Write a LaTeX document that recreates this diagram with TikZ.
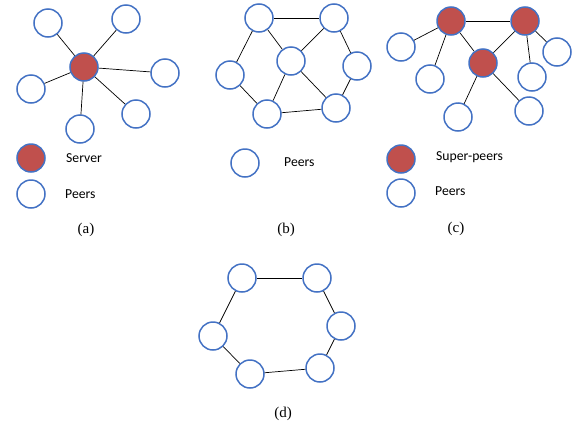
\documentclass[tikz,border=0pt]{standalone}
\usepackage{fontspec}
\setmainfont{Liberation Serif}
\newfontfamily\labelfont{Carlito}
\definecolor{peerblue}{RGB}{68,114,196}
\definecolor{serverred}{RGB}{192,80,77}
\begin{document}
\begin{tikzpicture}[x=1pt,y=-1pt,
  peer/.style={circle,draw=peerblue,line width=1.5pt,fill=white,minimum size=28pt,inner sep=0pt},
  hub/.style={peer,fill=serverred},
  link/.style={draw=black,line width=0.7pt},
  legend/.style={anchor=west,font=\labelfont\fontsize{13.7}{16}\selectfont,inner sep=0pt},
  caption/.style={font=\fontsize{15}{18}\selectfont,inner sep=0pt}]
\useasboundingbox (0,0) rectangle (578,426);

% (a) centralised: one server, all peers attached to it
\node[hub]  (as) at (84,67) {};
\node[peer] (a1) at (48,23) {};
\node[peer] (a2) at (126,19) {};
\node[peer] (a3) at (165,73) {};
\node[peer] (a4) at (31,89) {};
\node[peer] (a5) at (136,114) {};
\node[peer] (a6) at (80,129) {};
\foreach \p in {a1,a2,a3,a4,a5,a6} \draw[link] (as) -- (\p);
\node[hub]  (aks) at (31,158) {};
\node[peer] (akp) at (31,194) {};
\node[legend] (aks-t) at (66,158) {Server};
\node[legend] (akp-t) at (65,194) {Peers};
\node[caption] (acap) at (86,230) {(a)};

% (b) pure peer-to-peer mesh
\node[peer] (b1) at (259,18) {};
\node[peer] (b2) at (334,18) {};
\node[peer] (b3) at (291,61) {};
\node[peer] (b4) at (230,75) {};
\node[peer] (b5) at (357,66) {};
\node[peer] (b6) at (267,114) {};
\node[peer] (b7) at (336,108) {};
\foreach \u/\v in {b1/b2,b1/b4,b1/b3,b2/b3,b2/b5,b3/b6,b3/b7,b4/b6,b6/b7,b5/b7}
  \draw[link] (\u) -- (\v);
\node[peer] (bkp) at (245,163) {};
\node[legend] (bkp-t) at (284,162) {Peers};
\node[caption] (bcap) at (286,230) {(b)};

% (c) hybrid: super-peers linked together, peers hang off them
\node[hub]  (s1) at (451,21) {};
\node[hub]  (s2) at (525,21) {};
\node[hub]  (s3) at (483,63) {};
\node[peer] (c1) at (401,47) {};
\node[peer] (c2) at (430,79) {};
\node[peer] (c3) at (458,117) {};
\node[peer] (c4) at (529,111) {};
\node[peer] (c5) at (532,77) {};
\node[peer] (c6) at (557,52) {};
\foreach \u/\v in {s1/s2,s1/c1,s1/c2,s1/s3,s2/s3,s2/c5,s2/c6,s3/c3,s3/c4}
  \draw[link] (\u) -- (\v);
\node[hub]  (cks) at (401,159) {};
\node[peer] (ckp) at (401,193) {};
\node[legend] (cks-t) at (436,157) {Super-peers};
\node[legend] (ckp-t) at (435,191) {Peers};
\node[caption] (ccap) at (456,229) {(c)};

% (d) ring
\node[peer] (d1) at (242,278) {};
\node[peer] (d2) at (317,278) {};
\node[peer] (d3) at (341,326) {};
\node[peer] (d4) at (320,368) {};
\node[peer] (d5) at (250,374) {};
\node[peer] (d6) at (213,336) {};
\foreach \u/\v in {d1/d2,d2/d3,d3/d4,d4/d5,d5/d6,d6/d1}
  \draw[link] (\u) -- (\v);
\node[caption] (dcap) at (283,414) {(d)};
\end{tikzpicture}
\end{document}
